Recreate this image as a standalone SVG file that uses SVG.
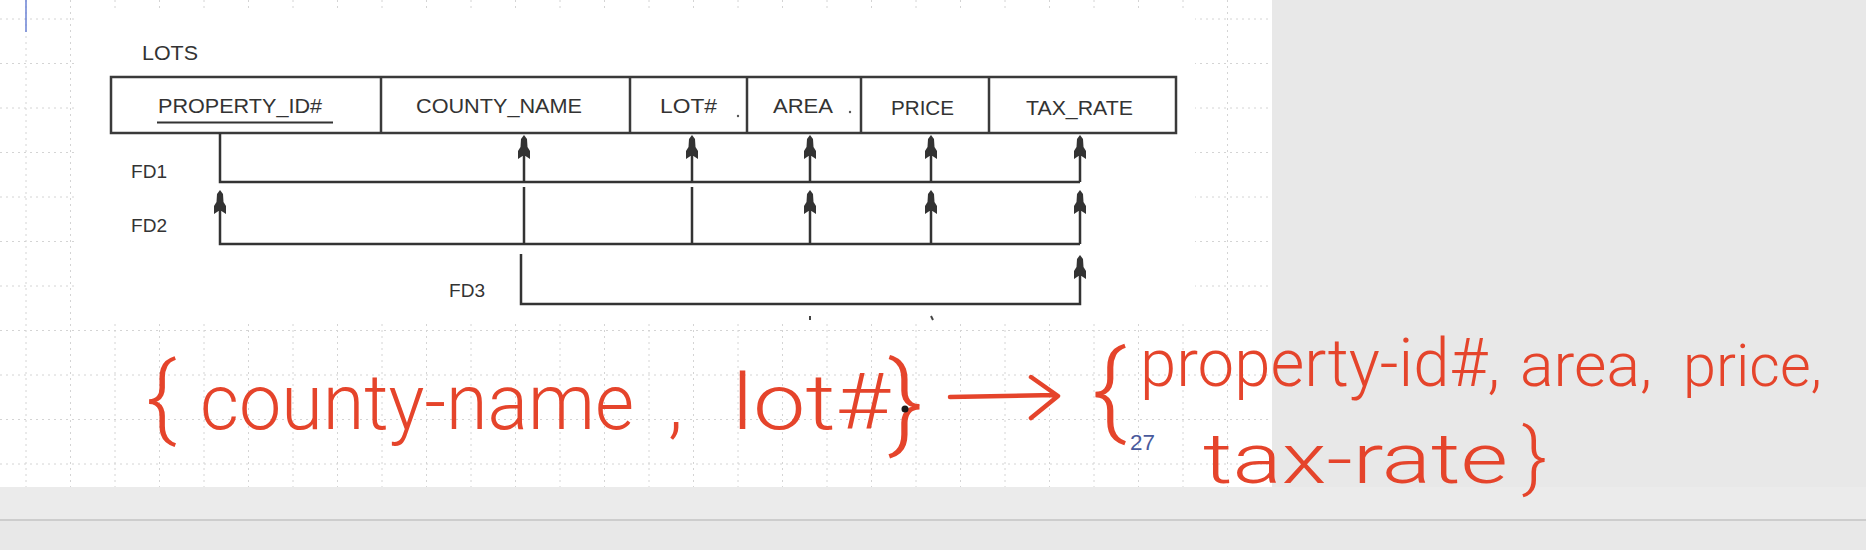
<svg xmlns="http://www.w3.org/2000/svg" xmlns:xlink="http://www.w3.org/1999/xlink" width="1866" height="550" viewBox="0 0 1866 550">
  <style>
    .tbl { fill: none; stroke: #3a3a3a; stroke-width: 2.5; }
    .lbl { font-family: "Liberation Sans", Arial, sans-serif; font-size: 21px; fill: #333; }
    .fd { font-family: "Liberation Sans", Arial, sans-serif; font-size: 19px; fill: #333; }
    .ln { fill: none; stroke: #333; stroke-width: 2.5; }
    .grid { fill: none; stroke: #d4d4d4; stroke-width: 1; stroke-dasharray: 2 4; }
    .hand { font-family: Roboto, "Open Sans", "Liberation Sans", sans-serif; font-weight: 300; fill: #e5442b; }
    .handln { fill: none; stroke: #e5442b; stroke-width: 4.5; stroke-linecap: round; stroke-linejoin: round; }
  </style>
  <defs>
    <path id="ah" d="M0,0 L3,4 L3.5,12 L6,16 L6,24 L1.5,21 L-1.5,21 L-6,24 L-6,16 L-3.5,12 L-3,4 Z" fill="#333"/>
  </defs>

  <!-- page background -->
  <rect x="0" y="0" width="1866" height="550" fill="#e8e8e8"/>
  <rect x="0" y="487" width="1866" height="33" fill="#ebebeb"/>
  <line x1="0" y1="520" x2="1866" y2="520" stroke="#cdcdcd" stroke-width="2"/>
  <rect x="0" y="0" width="1272" height="487" fill="#ffffff"/>

  <!-- dotted grid -->
  <path class="grid" d="M26,0V487 M70.5,0V487 M115,0V487 M159.5,0V487 M204,0V487 M248.5,0V487 M293,0V487 M337.5,0V487 M382,0V487 M426.5,0V487 M471,0V487 M515.5,0V487 M560,0V487 M604.5,0V487 M649,0V487 M693.5,0V487 M738,0V487 M782.5,0V487 M827,0V487 M871.5,0V487 M916,0V487 M960.5,0V487 M1005,0V487 M1049.5,0V487 M1094,0V487 M1138.5,0V487 M1183,0V487 M1227.5,0V487 M0,19H1272 M0,63.5H1272 M0,108H1272 M0,152.5H1272 M0,197H1272 M0,241.5H1272 M0,286H1272 M0,330.5H1272 M0,375H1272 M0,419.5H1272 M0,464H1272"/>
  <line x1="26" y1="0" x2="26" y2="32" stroke="#6a82d4" stroke-width="1.5"/>

  <!-- pasted diagram image background -->
  <rect x="75" y="9" width="1120" height="313" fill="#ffffff"/>

  <text class="lbl" x="142" y="60" font-size="20" textLength="56" lengthAdjust="spacingAndGlyphs">LOTS</text>

  <g id="lots-table">
    <rect class="tbl" x="111" y="77" width="1065" height="56"/>
    <line class="tbl" x1="381" y1="77" x2="381" y2="133"/>
    <line class="tbl" x1="630" y1="77" x2="630" y2="133"/>
    <line class="tbl" x1="747" y1="77" x2="747" y2="133"/>
    <line class="tbl" x1="861" y1="77" x2="861" y2="133"/>
    <line class="tbl" x1="989" y1="77" x2="989" y2="133"/>
  </g>
  <g id="attr-property-id">
    <text class="lbl" x="158" y="113" textLength="164" lengthAdjust="spacingAndGlyphs">PROPERTY_ID#</text>
    <line x1="157" y1="122.5" x2="333" y2="122.5" stroke="#333" stroke-width="2"/>
  </g>
  <g id="attr-county-name">
    <text class="lbl" x="416" y="113" textLength="166" lengthAdjust="spacingAndGlyphs">COUNTY_NAME</text>
  </g>
  <g id="attr-lot">
    <text class="lbl" x="660" y="113" textLength="57" lengthAdjust="spacingAndGlyphs">LOT#</text>
    <circle cx="738" cy="116" r="1.2" fill="#555"/>
  </g>
  <g id="attr-area">
    <text class="lbl" x="773" y="113" textLength="60" lengthAdjust="spacingAndGlyphs">AREA</text>
    <circle cx="850" cy="112" r="1.2" fill="#555"/>
  </g>
  <g id="attr-price">
    <text class="lbl" x="891" y="115" textLength="63" lengthAdjust="spacingAndGlyphs">PRICE</text>
  </g>
  <g id="attr-tax-rate">
    <text class="lbl" x="1026" y="115" textLength="107" lengthAdjust="spacingAndGlyphs">TAX_RATE</text>
  </g>

  <g id="fd-labels">
    <text class="fd" x="131" y="178" textLength="36" lengthAdjust="spacingAndGlyphs">FD1</text>
    <text class="fd" x="131" y="232" textLength="36" lengthAdjust="spacingAndGlyphs">FD2</text>
    <text class="fd" x="449" y="297" textLength="36" lengthAdjust="spacingAndGlyphs">FD3</text>
  </g>

  <g id="connectors">
    <!-- FD1 -->
    <path class="ln" d="M220,133 V182 H1080 M524,182 V150 M692,182 V150 M810,182 V150 M931,182 V150 M1080,182 V150"/>
    <use xlink:href="#ah" x="524" y="135"/>
    <use xlink:href="#ah" x="692" y="135"/>
    <use xlink:href="#ah" x="810" y="135"/>
    <use xlink:href="#ah" x="931" y="135"/>
    <use xlink:href="#ah" x="1080" y="135"/>
    <!-- FD2 -->
    <path class="ln" d="M220,205 V244 H1080 M524,187 V244 M692,187 V244 M810,244 V205 M931,244 V205 M1080,244 V205"/>
    <use xlink:href="#ah" x="220" y="190"/>
    <use xlink:href="#ah" x="810" y="190"/>
    <use xlink:href="#ah" x="931" y="190"/>
    <use xlink:href="#ah" x="1080" y="190"/>
    <!-- FD3 -->
    <path class="ln" d="M521,254 V304 H1080 V270"/>
    <use xlink:href="#ah" x="1080" y="255"/>
    <line x1="810" y1="316" x2="810" y2="320" stroke="#444" stroke-width="2"/>
    <line x1="931" y1="316" x2="933" y2="320" stroke="#444" stroke-width="2"/>
  </g>

  <!-- handwritten annotation -->
  <g id="annotation">
    <text class="hand" x="146" y="429" font-size="92">{</text>
    <text class="hand" x="200" y="429" font-size="78" textLength="434" lengthAdjust="spacingAndGlyphs">county-name</text>
    <text class="hand" x="668" y="429" font-size="78">,</text>
    <text class="hand" x="732" y="429" font-size="78" textLength="158" lengthAdjust="spacingAndGlyphs">lot#</text>
    <text class="hand" x="888" y="438" font-size="106">}</text>
    <circle cx="905" cy="409" r="3.5" fill="#1a1a1a"/>
    <path class="handln" d="M950,397 L1055,395 M1031,377 L1058,396 L1031,418"/>
    <text class="hand" x="1092" y="425" font-size="104">{</text>
    <text class="hand" x="1140" y="386" font-size="66" textLength="360" lengthAdjust="spacingAndGlyphs">property-id#,</text>
    <text class="hand" x="1520" y="386" font-size="62" textLength="132" lengthAdjust="spacingAndGlyphs">area,</text>
    <text class="hand" x="1683" y="386" font-size="60" textLength="139" lengthAdjust="spacingAndGlyphs">price,</text>
    <text class="hand" x="1203" y="483" font-size="70" textLength="305" lengthAdjust="spacingAndGlyphs">tax-rate</text>
    <text class="hand" x="1522" y="482" font-size="76">}</text>
  </g>

  <text x="1130" y="450" font-family="Liberation Sans, Arial, sans-serif" font-size="22" fill="#4a5a9c" textLength="25" lengthAdjust="spacingAndGlyphs">27</text>
</svg>
